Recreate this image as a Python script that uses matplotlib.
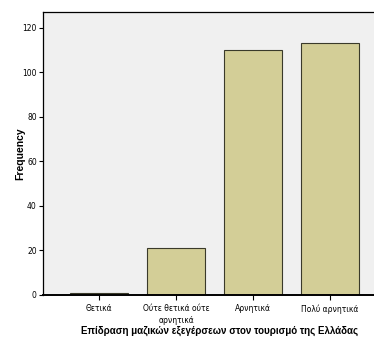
import matplotlib.pyplot as plt

# Data
categories = ['Θετικά', 'Ούτε θετικά ούτε\nαρνητικά', 'Αρνητικά', 'Πολύ αρνητικά']
counts = [1, 21, 110, 113]
yticks = [0, 20, 40, 60, 80, 100, 120]

narrow = ['Liberation Sans Narrow', 'DejaVu Sans Condensed', 'DejaVu Sans']
bold = ['Liberation Sans', 'DejaVu Sans']

fig = plt.figure(figsize=(3.74, 3.40), dpi=100)
ax = fig.add_axes([43 / 374, 45 / 340, 331 / 374, 283 / 340])
ax.set_facecolor('#F0F0F0')

x = list(range(len(categories)))
ax.bar(x, counts, width=0.75, color='#D3CE97', edgecolor='#3a3a2a', linewidth=0.8)

ax.set_xlim(-0.727, 3.57)
ax.set_ylim(0, 127)
ax.set_yticks(yticks)
ax.set_yticklabels([str(v) for v in yticks], family=narrow, fontsize=5.5)
ax.set_xticks(x)
ax.set_xticklabels(categories, family=narrow, fontsize=5.5, linespacing=1.45)
ax.tick_params(axis='y', length=3, width=0.8, color='black', pad=1.5)
ax.tick_params(axis='x', length=3.5, width=0.8, color='black', pad=3)

for side in ['left', 'bottom', 'top']:
    ax.spines[side].set_color('black')
ax.spines['bottom'].set_linewidth(1.4)
ax.spines['left'].set_linewidth(0.9)
ax.spines['top'].set_linewidth(0.9)
ax.spines['right'].set_visible(False)

ax.set_ylabel('Frequency', family=bold, fontsize=7.5, fontweight='bold', labelpad=-2)
fig.text(220 / 374, 1 - 331 / 340,
         'Επίδραση μαζικών εξεγέρσεων στον τουρισμό της Ελλάδας',
         family=bold, fontsize=7, fontweight='bold', ha='center', va='center')

fig.savefig('out.png', dpi=100)
